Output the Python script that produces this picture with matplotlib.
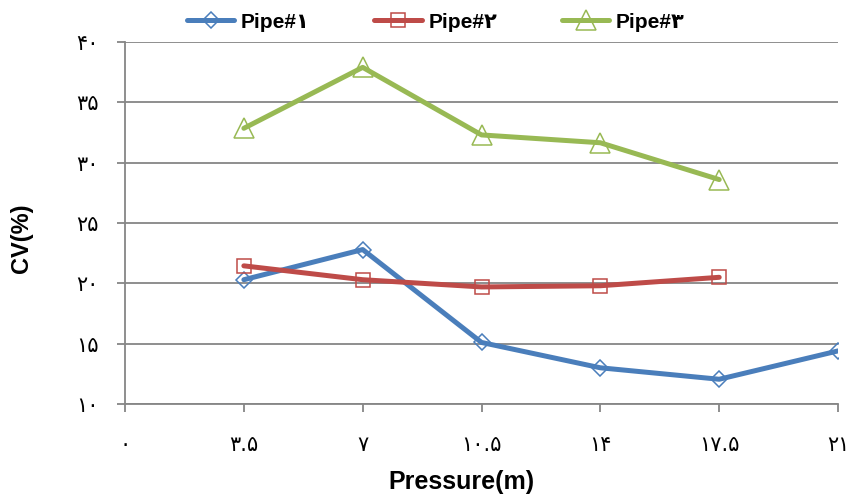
import matplotlib.pyplot as plt

fa = str.maketrans('0123456789', '۰۱۲۳۴۵۶۷۸۹')

pressure = [3.5, 7, 10.5, 14, 17.5, 21]
pipe1 = [20.3, 22.8, 15.1, 13.0, 12.05, 14.4]
pipe2 = [21.45, 20.3, 19.7, 19.8, 20.5]
pipe3 = [32.85, 37.9, 32.3, 31.65, 28.6]
series_names = ['Pipe#1', 'Pipe#2', 'Pipe#3']

x_ticks = [0, 3.5, 7, 10.5, 14, 17.5, 21]
y_ticks = [10, 15, 20, 25, 30, 35, 40]

fams = ['Liberation Sans', 'DejaVu Sans']
plt.rcParams['font.family'] = fams

fig = plt.figure(figsize=(8.54, 4.99), dpi=100)
ax = fig.add_axes([0.1464, 0.1904, 0.8349, 0.7254])

styles = [
    ('#4A7EBB', 'D', 8.5),
    ('#BE4B48', 's', 10.5),
    ('#98B954', '^', 14),
]
for ys, name, (c, m, ms) in zip([pipe1, pipe2, pipe3], series_names, styles):
    ax.plot(pressure[:len(ys)], ys, color=c, lw=3.6, marker=m, ms=ms,
            mfc='none', mec=c, mew=1.1, solid_capstyle='round',
            label=name.translate(fa))

ax.set_xlim(0, 21)
ax.set_ylim(10, 40)
ax.set_xticks(x_ticks)
ax.set_yticks(y_ticks)
ax.set_xticklabels([f'{v:g}'.translate(fa) for v in x_ticks], fontsize=15,
                   family=['DejaVu Sans'])
ax.set_yticklabels([f'{v:g}'.translate(fa) for v in y_ticks], fontsize=15,
                   family=['DejaVu Sans'])
ax.grid(axis='y', color='#868686', lw=1.3)
ax.set_axisbelow(True)
for s in ['top', 'right']:
    ax.spines[s].set_visible(False)
for s in ['left', 'bottom']:
    ax.spines[s].set_color('#868686')
    ax.spines[s].set_linewidth(1.3)
ax.tick_params(axis='x', direction='out', length=6, width=1.3, color='#868686', pad=16)
ax.tick_params(axis='y', direction='out', length=6, width=1.3, color='#868686', pad=13)

ax.set_xlabel('Pressure(m)', fontsize=18, fontweight='bold', va='center')
ax.xaxis.set_label_coords(0.472, -0.2155)
ax.set_ylabel('CV(%)', fontsize=17, fontweight='bold', va='center')
ax.yaxis.set_label_coords(-0.1445, 0.4586)

fig.legend(loc='upper center', bbox_to_anchor=(0.51, 1.012), ncol=3,
           frameon=False, handlelength=2.3, columnspacing=3.1, handletextpad=0.3,
           prop={'family': fams, 'weight': 'bold', 'size': 15})

fig.savefig('out.png', dpi=100)
